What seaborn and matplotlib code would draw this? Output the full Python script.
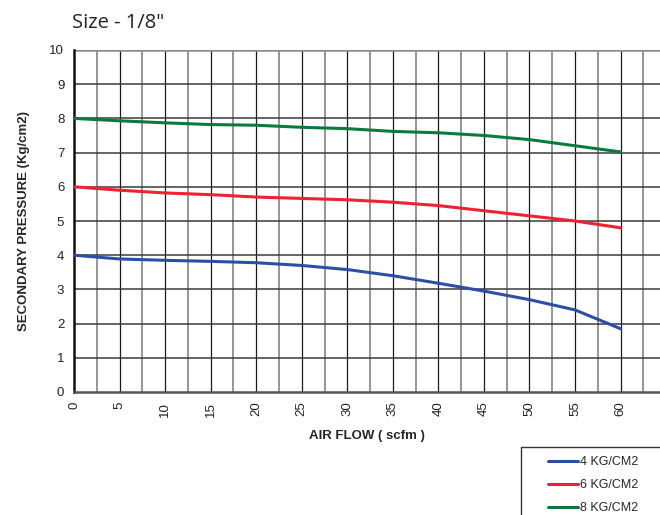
import matplotlib
matplotlib.use("Agg")
import matplotlib.pyplot as plt
from matplotlib.patches import Rectangle
import seaborn as sns
import pandas as pd

sns.set_style("white")
plt.rcParams['font.family'] = ['Liberation Sans', 'DejaVu Sans']

air_flow = [0, 5, 10, 15, 20, 25, 30, 35, 40, 45, 50, 55, 60]
p4 = [4.0, 3.89, 3.85, 3.82, 3.78, 3.70, 3.58, 3.40, 3.18, 2.95, 2.70, 2.40, 1.85]
p6 = [6.0, 5.90, 5.82, 5.77, 5.70, 5.66, 5.62, 5.55, 5.45, 5.30, 5.15, 5.00, 4.80]
p8 = [8.0, 7.93, 7.87, 7.82, 7.80, 7.74, 7.70, 7.62, 7.58, 7.50, 7.38, 7.20, 7.02]
series = ["4 KG/CM2", "6 KG/CM2", "8 KG/CM2"]
colors = ["#2b4ea6", "#ee2230", "#0b7a3e"]
x_ticks = [0, 5, 10, 15, 20, 25, 30, 35, 40, 45, 50, 55, 60]
y_ticks = [0, 1, 2, 3, 4, 5, 6, 7, 8, 9, 10]

df = pd.DataFrame({
    "flow": air_flow * 3,
    "pressure": p4 + p6 + p8,
    "series": [series[0]] * len(air_flow) + [series[1]] * len(air_flow) + [series[2]] * len(air_flow),
})

W, H = 660, 515
fig = plt.figure(figsize=(6.6, 5.15), dpi=100)
ax = fig.add_axes([74 / W, 1 - 392 / H, 1 - 74 / W + 0.001, (392 - 50) / H])

ax.set_xlim(0, 64.4)
ax.set_ylim(0, 10)

# grid
for i in range(1, 26):
    xv = i * 2.5
    if i % 2 == 0:
        ax.axvline(xv, color="#1a1a1a", lw=0.9, zorder=1)
    else:
        ax.axvline(xv, color="#8c8c8c", lw=1.3, zorder=1)
for yv in y_ticks[1:]:
    if yv < 10:
        ax.axhline(yv, color="#3a3a3a", lw=1.1, zorder=1)
    else:
        ax.axhline(yv, color="#8c8c8c", lw=1.8, zorder=1)

sns.lineplot(data=df, x="flow", y="pressure", hue="series", palette=colors,
             hue_order=series, lw=2.2, ax=ax, legend=False, zorder=3)

ax.set_xticks(x_ticks)
ax.set_xticklabels([str(v) for v in x_ticks], rotation=90, fontsize=9.5, color="#222222")
ax.set_yticks(y_ticks)
ax.set_yticklabels([str(v) for v in y_ticks], fontsize=9.5, color="#222222")
ax.tick_params(axis="both", length=4, width=1, color="#111111", direction="out", pad=3)

for s in ["top", "right"]:
    ax.spines[s].set_visible(False)
ax.spines["left"].set_color("#111111")
ax.spines["left"].set_linewidth(1.8)
ax.spines["bottom"].set_color("#555555")
ax.spines["bottom"].set_linewidth(1.8)

ax.set_xlabel("AIR FLOW ( scfm )", fontsize=9.5, fontweight="bold", labelpad=10)
ax.set_ylabel("SECONDARY PRESSURE (Kg/cm2)", fontsize=9.5, fontweight="bold", labelpad=14)

fig.text(72 / W, 1 - 23 / H, 'Size - 1/8"', fontsize=14.5, family=["Open Sans", "DejaVu Sans"],
         color="#222222", va="center", ha="left")

# legend box extending past the figure edge
fig.patches.append(Rectangle((521 / W, 1 - 540 / H), 200 / W, 93 / H, transform=fig.transFigure,
                             fill=False, edgecolor="#333333", lw=1.0, clip_on=False))
handles = [plt.Line2D([0], [0], color=c, lw=2.2) for c in colors]
leg = fig.legend(handles, series, loc="upper left", bbox_to_anchor=(548 / W, 1 - 456 / H),
                 frameon=False, fontsize=9, handlelength=2.4, handletextpad=0.15,
                 labelspacing=0.88, borderpad=0, borderaxespad=0)
leg.set_in_layout(False)

fig.savefig("out.png", dpi=100)
